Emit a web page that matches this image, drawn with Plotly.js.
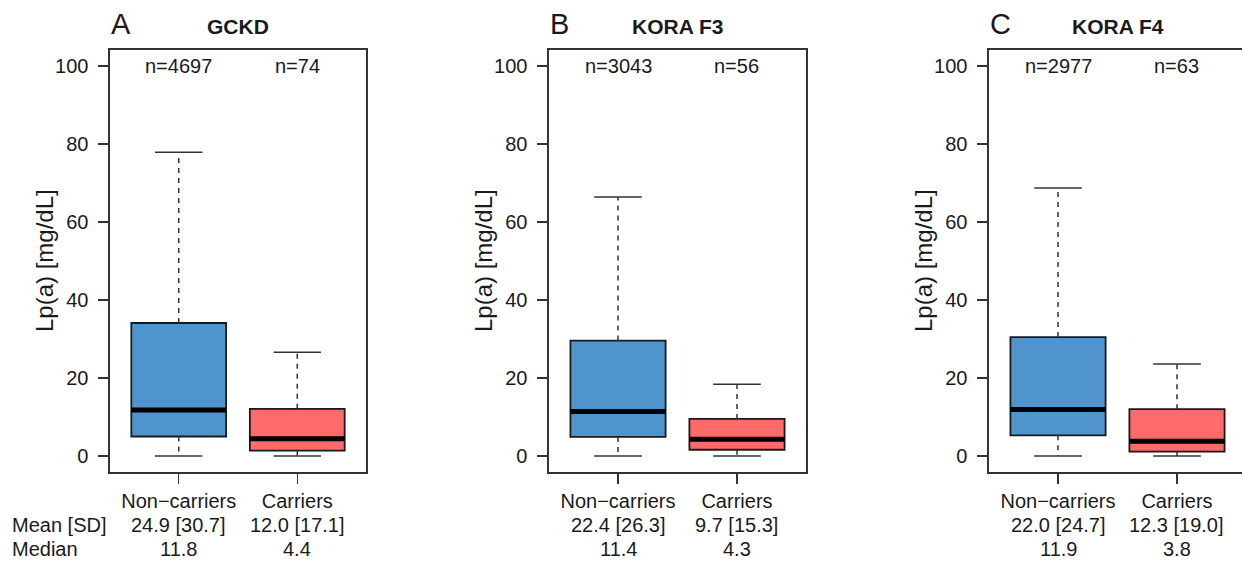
<!DOCTYPE html>
<html>
<head>
<meta charset="utf-8">
<script src="https://cdn.plot.ly/plotly-3.0.1.min.js"></script>
<style>
html,body{margin:0;padding:0;overflow:hidden;background:#fff;width:1242px;height:562px;}
#chart{width:1250px;height:562px;}
</style>
</head>
<body>
<div id="chart"></div>
<script>
// ---- data ----
const panelLetters = ['A', 'B', 'C'];
const cohorts = ['GCKD', 'KORA F3', 'KORA F4'];
const groups = ['Non\u2212carriers', 'Carriers'];
const nCounts = [[4697, 74], [3043, 56], [2977, 63]];
const lowerWhisker = [[0, 0], [0, 0], [0, 0]];
const q1 = [[5.0, 1.4], [4.9, 1.6], [5.3, 1.1]];
const medians = [[11.8, 4.4], [11.4, 4.3], [11.9, 3.8]];
const q3 = [[34.1, 12.1], [29.6, 9.5], [30.5, 12.0]];
const upperWhisker = [[77.9, 26.6], [66.4, 18.4], [68.7, 23.6]];
const means = [[24.9, 12.0], [22.4, 9.7], [22.0, 12.3]];
const sds = [[30.7, 17.1], [26.3, 15.3], [24.7, 19.0]];
const yTicks = [0, 20, 40, 60, 80, 100];
const rowLabels = ['Mean [SD]', 'Median'];
const yTitle = 'Lp(a) [mg/dL]';

// ---- styling ----
const FONT = 'Liberation Sans, Arial, Helvetica, sans-serif';
const TXT = '#1a1a1a';
const LINE = '#333333';
const fills = ['#4F94CD', '#FF6A6A'];
const positions = [1, 2];
const boxW = 0.8, capW = 0.4;

const W = 1250, H = 562;
const mL = 110, mR = 4, mT = 50, mB = 90;
const plotW = W - mL - mR, plotH = H - mT - mB;
const panelPx = [[110, 366], [549, 806], [989, 1246]];
const dom = panelPx.map(p => [(p[0] - mL) / plotW, Math.min(1, (p[1] - mL) / plotW)]);
const py = px => (H - mB - px) / plotH; // pixel row -> paper y

const traces = [];
const layout = {
  width: W, height: H,
  margin: {l: mL, r: mR, t: mT, b: mB},
  paper_bgcolor: '#fff', plot_bgcolor: '#fff',
  showlegend: false, boxmode: 'overlay',
  font: {family: FONT, color: TXT, size: 20},
  annotations: []
};

cohorts.forEach((name, p) => {
  const xa = p === 0 ? 'x' : 'x' + (p + 1);
  const ya = p === 0 ? 'y' : 'y' + (p + 1);
  const xKey = p === 0 ? 'xaxis' : 'xaxis' + (p + 1);
  const yKey = p === 0 ? 'yaxis' : 'yaxis' + (p + 1);

  // boxes
  groups.forEach((g, i) => {
    traces.push({
      type: 'box', xaxis: xa, yaxis: ya,
      x: [positions[i]],
      q1: [q1[p][i]], median: [medians[p][i]], q3: [q3[p][i]],
      lowerfence: [q1[p][i]], upperfence: [q3[p][i]],
      width: boxW, whiskerwidth: 0,
      fillcolor: fills[i],
      line: {color: '#1a1a1a', width: 1.8},
      hoverinfo: 'skip'
    });
  });

  // dashed whiskers
  const wx = [], wy = [];
  groups.forEach((g, i) => {
    wx.push(positions[i], positions[i], null, positions[i], positions[i], null);
    wy.push(q3[p][i], upperWhisker[p][i], null, q1[p][i], lowerWhisker[p][i], null);
  });
  traces.push({type: 'scatter', mode: 'lines', xaxis: xa, yaxis: ya, x: wx, y: wy,
    line: {color: LINE, width: 1.5, dash: '5px,5px'}, hoverinfo: 'skip'});

  // caps
  const cx = [], cy = [];
  groups.forEach((g, i) => {
    cx.push(positions[i] - capW / 2, positions[i] + capW / 2, null,
            positions[i] - capW / 2, positions[i] + capW / 2, null);
    cy.push(upperWhisker[p][i], upperWhisker[p][i], null,
            lowerWhisker[p][i], lowerWhisker[p][i], null);
  });
  traces.push({type: 'scatter', mode: 'lines', xaxis: xa, yaxis: ya, x: cx, y: cy,
    line: {color: LINE, width: 1.5}, hoverinfo: 'skip'});

  // thick medians
  const mx = [], my = [];
  groups.forEach((g, i) => {
    mx.push(positions[i] - boxW / 2, positions[i] + boxW / 2, null);
    my.push(medians[p][i], medians[p][i], null);
  });
  traces.push({type: 'scatter', mode: 'lines', xaxis: xa, yaxis: ya, x: mx, y: my,
    line: {color: '#000', width: 5}, hoverinfo: 'skip'});

  layout[xKey] = {
    domain: dom[p], anchor: ya, range: [0.42, 2.58],
    tickmode: 'array', tickvals: positions, ticktext: groups,
    ticks: 'outside', ticklen: 10, tickwidth: 1.5, tickcolor: LINE,
    ticklabelstandoff: 0,
    showline: true, mirror: true, linecolor: LINE, linewidth: 1.6,
    showgrid: false, zeroline: false, fixedrange: true,
    tickfont: {family: FONT, size: 20, color: TXT}
  };
  layout[yKey] = {
    domain: [0, 1], anchor: xa, range: [-4.1, 104.1],
    tickmode: 'array', tickvals: yTicks,
    ticks: 'outside', ticklen: 10, tickwidth: 1.5, tickcolor: LINE,
    ticklabelstandoff: 6,
    showline: true, mirror: true, linecolor: LINE, linewidth: 1.6,
    showgrid: false, zeroline: false, fixedrange: true,
    tickfont: {family: FONT, size: 20, color: TXT}
  };

  // y axis title
  layout.annotations.push({
    xref: xa + ' domain', yref: ya + ' domain', x: 0, y: 0.5, xshift: -66,
    xanchor: 'center', yanchor: 'middle', textangle: -90,
    text: yTitle, showarrow: false, font: {family: FONT, size: 24, color: TXT}
  });

  // panel letter and cohort title
  layout.annotations.push({
    xref: xa + ' domain', yref: 'paper', x: -0.005, y: py(24), xanchor: 'left', yanchor: 'middle',
    text: panelLetters[p], showarrow: false, font: {family: FONT, size: 29, color: TXT}
  });
  layout.annotations.push({
    xref: xa + ' domain', yref: 'paper', x: 0.5, y: py(26), xanchor: 'center', yanchor: 'middle',
    text: '<b>' + name + '</b>', showarrow: false, font: {family: FONT, size: 21, color: TXT}
  });

  // n labels and stats rows
  groups.forEach((g, i) => {
    layout.annotations.push({
      xref: xa, yref: ya, x: positions[i], y: yTicks[yTicks.length - 1], xanchor: 'center', yanchor: 'middle',
      text: 'n=' + nCounts[p][i], showarrow: false, font: {family: FONT, size: 20, color: TXT}
    });
    layout.annotations.push({
      xref: xa, yref: 'paper', x: positions[i], y: py(525), xanchor: 'center', yanchor: 'middle',
      text: means[p][i].toFixed(1) + ' [' + sds[p][i].toFixed(1) + ']', showarrow: false,
      font: {family: FONT, size: 20, color: TXT}
    });
    layout.annotations.push({
      xref: xa, yref: 'paper', x: positions[i], y: py(549), xanchor: 'center', yanchor: 'middle',
      text: medians[p][i].toFixed(1), showarrow: false,
      font: {family: FONT, size: 20, color: TXT}
    });
  });
});

// row labels at far left
rowLabels.forEach((t, r) => {
  layout.annotations.push({
    xref: 'paper', yref: 'paper', x: (10 - mL) / plotW, y: py(r === 0 ? 525 : 549),
    xanchor: 'left', yanchor: 'middle', text: t, showarrow: false,
    font: {family: FONT, size: 20, color: TXT}
  });
});

Plotly.newPlot('chart', traces, layout, {staticPlot: true, displayModeBar: false});
</script>
</body>
</html>
